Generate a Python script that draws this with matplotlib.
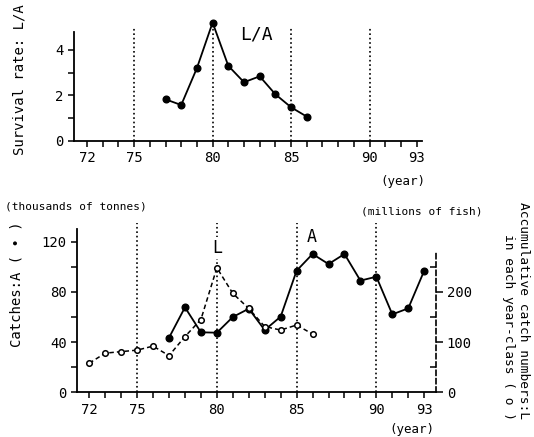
import numpy as np
import matplotlib
matplotlib.use("Agg")
import matplotlib.pyplot as plt
from matplotlib.ticker import MultipleLocator, FixedLocator

plt.rcParams['font.family'] = ['DejaVu Sans Mono', 'DejaVu Sans']
plt.rcParams['font.size'] = 10

# survival rate L/A by year-class
sr_years = [77, 78, 79, 80, 81, 82, 83, 84, 85, 86]
sr_vals = [1.83, 1.58, 3.2, 5.2, 3.3, 2.58, 2.84, 2.05, 1.48, 1.07]

# catches A (thousands of tonnes)
a_years = [77, 78, 79, 80, 81, 82, 83, 84, 85, 86, 87, 88, 89, 90, 91, 92, 93]
a_vals = [43.5, 67.7, 47.8, 47.5, 60, 66.6, 49.6, 60.3, 96.9, 110.2, 102.2,
          110.2, 89, 92.1, 62.1, 66.9, 96.9]

# accumulative catch numbers L (millions of fish)
l_years = [72, 73, 74, 75, 76, 77, 78, 79, 80, 81, 82, 83, 84, 85, 86]
l_vals = [58, 78, 81, 84, 92, 73, 111, 145, 248, 197, 167, 131, 124, 134, 116]

mark_years = [75, 80, 85, 90]
xlabels = [72, 75, 80, 85, 90, 93]

W, H = 534, 437
fig = plt.figure(figsize=(W / 100, H / 100), dpi=100)

def frac(x0, y_top, x1, y_bot):
    return [x0 / W, 1 - y_bot / H, (x1 - x0) / W, (y_bot - y_top) / H]

# ---- top panel ----
ax1 = fig.add_axes(frac(74, 18, 422, 141))
ax1.set_xlim(71.17, 93.34)
ax1.set_ylim(0, 5.4)
for yr in mark_years:
    ax1.plot([yr, yr], [0, 5.0], color='black', ls=':', lw=1.2)
ax1.plot(sr_years, sr_vals, '-o', color='black', lw=1.3, ms=4.8, clip_on=False)
ax1.text(82.8, 4.66, 'L/A', fontsize=13, ha='center', va='center')
ax1.spines['top'].set_visible(False)
ax1.spines['right'].set_visible(False)
ax1.spines['left'].set_bounds(0, 4.8)
ax1.spines['left'].set_linewidth(1.3)
ax1.spines['bottom'].set_linewidth(1.3)
ax1.set_yticks([0, 2, 4])
ax1.yaxis.set_minor_locator(FixedLocator([1, 3]))
ax1.set_xticks(xlabels)
ax1.xaxis.set_minor_locator(MultipleLocator(1))
ax1.tick_params(which='both', length=4, width=1.1)

# ---- bottom panel ----
ax2 = fig.add_axes(frac(77.3, 216.6, 435.7, 392.3))
ax2.set_xlim(71.25, 93.72)
ax2.set_ylim(0, 140)
for yr in mark_years:
    ax2.plot([yr, yr], [0, 135], color='black', ls=':', lw=1.2)
ax2.plot(a_years, a_vals, '-o', color='black', lw=1.3, ms=4.8, zorder=4)
ax2.text(80, 115, 'L', fontsize=12, ha='center', va='center',
         bbox=dict(fc='white', ec='none', pad=1.5))
ax2.text(85.94, 124, 'A', fontsize=12, ha='center', va='center')
ax2.spines['top'].set_visible(False)
ax2.spines['right'].set_visible(False)
ax2.spines['left'].set_bounds(0, 130)
ax2.spines['left'].set_linewidth(1.3)
ax2.spines['bottom'].set_linewidth(1.3)
ax2.set_yticks([0, 40, 80, 120])
ax2.yaxis.set_minor_locator(FixedLocator([20, 60, 100]))
ax2.set_xticks(xlabels)
ax2.xaxis.set_minor_locator(MultipleLocator(1))
ax2.tick_params(which='both', length=4, width=1.1)

ax3 = ax2.twinx()
ax3.set_ylim(0, 350)
ax3.plot(l_years, l_vals, '--o', color='black', lw=1.1, ms=4,
         mfc='white', mew=1.1, dashes=(3, 2), zorder=3)
for s in ['top', 'left', 'bottom']:
    ax3.spines[s].set_visible(False)
ax3.spines['right'].set_bounds(0, 280)
ax3.spines['right'].set_linestyle((0, (3, 2)))
ax3.spines['right'].set_linewidth(1.2)
ax3.set_yticks([0, 100, 200])
ax3.yaxis.set_minor_locator(FixedLocator([50, 150, 250]))
ax3.tick_params(which='major', length=5, width=1.1, pad=3)
ax3.tick_params(which='minor', direction='in', length=4, width=1.1)

# ---- labels ----
fig.text(20 / W, 1 - 80 / H, 'Survival rate: L/A', rotation=90,
         ha='center', va='center', fontsize=10)
fig.text(403 / W, 1 - 182 / H, '(year)', ha='center', va='center', fontsize=9)
fig.text(5 / W, 1 - 207 / H, '(thousands of tonnes)', ha='left',
         va='center', fontsize=8)
fig.text(422 / W, 1 - 212 / H, '(millions of fish)', ha='center',
         va='center', fontsize=8)
fig.text(17 / W, 1 - 284 / H, 'Catches:A ( • )', rotation=90,
         ha='center', va='center', fontsize=10)
fig.text(516 / W, 1 - 311 / H,
         'Accumulative catch numbers:L\nin each year-class ( o )',
         rotation=-90, ha='center', va='center', multialignment='right',
         fontsize=9.3, linespacing=1.3)
fig.text(412 / W, 1 - 429 / H, '(year)', ha='center', va='center', fontsize=9)

fig.savefig('out.png', dpi=100)
